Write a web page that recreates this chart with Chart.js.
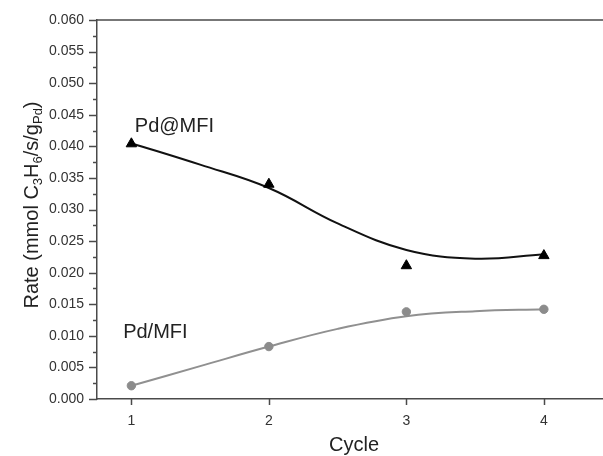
<!DOCTYPE html>
<html>
<head>
<meta charset="utf-8">
<script src="https://cdn.jsdelivr.net/npm/chart.js@4"></script>
<style>
  html, body { margin: 0; padding: 0; background: #fff; }
  #wrap { width: 603px; height: 456px; }
</style>
</head>
<body>
<div id="wrap"><canvas id="rateChart" width="603" height="456"></canvas></div>
<script>
// measured points
const cycles = [1, 2, 3, 4];
const pdAtMfi = [0.0404, 0.0340, 0.0211, 0.0227];
const pdMfi = [0.0021, 0.0083, 0.0138, 0.0142];

// fitted curves
const fitCycles = [1, 1.5, 2, 2.5, 3, 3.5, 4];
const pdAtMfiFit = [0.0405, 0.0371, 0.0334, 0.0278, 0.0236, 0.0222, 0.0229];
const pdMfiFit = [0.0021, 0.0052, 0.0083, 0.0111, 0.0131, 0.0139, 0.0142];

const xTickLabels = ['1', '2', '3', '4'];
const yTickStep = 0.005;

const FONT = '"Liberation Sans", Arial, sans-serif';
const GREY = '#8c8c8c';

const toXY = (xs, ys) => xs.map((x, i) => ({ x: x, y: ys[i] }));

// Frame, minor ticks, axis titles and the in-plot labels
const decorations = {
    id: 'decorations',
    afterDraw(chart) {
        const ctx = chart.ctx;
        const area = chart.chartArea;
        const xs = chart.scales.x;
        const ys = chart.scales.y;
        ctx.save();
        ctx.strokeStyle = '#4a4a4a';
        ctx.lineWidth = 1.5;

        // top line
        ctx.beginPath();
        ctx.moveTo(area.left, area.top);
        ctx.lineTo(area.right, area.top);
        ctx.stroke();

        // y ticks (major + minor)
        for (let i = 0; i <= 24; i++) {
            const py = Math.round(ys.getPixelForValue(i * yTickStep / 2)) + 0.5;
            const len = i % 2 === 0 ? 8 : 4;
            ctx.beginPath();
            ctx.moveTo(area.left - len, py);
            ctx.lineTo(area.left, py);
            ctx.stroke();
        }
        // x ticks
        cycles.forEach(c => {
            const px = Math.round(xs.getPixelForValue(c)) + 0.5;
            ctx.beginPath();
            ctx.moveTo(px, area.bottom);
            ctx.lineTo(px, area.bottom + 6);
            ctx.stroke();
        });

        // x title
        ctx.fillStyle = '#222';
        ctx.font = '20px ' + FONT;
        ctx.textAlign = 'center';
        ctx.textBaseline = 'middle';
        ctx.fillText('Cycle', 354, 445);

        // y title with subscripts
        const parts = [
            ['Rate (mmol C', false], ['3', true], ['H', false], ['6', true],
            ['/s/g', false], ['Pd', true], [')', false]
        ];
        const big = '20px ' + FONT, small = '13px ' + FONT;
        let total = 0;
        parts.forEach(p => { ctx.font = p[1] ? small : big; total += ctx.measureText(p[0]).width; });
        ctx.translate(32, 205);
        ctx.rotate(-Math.PI / 2);
        ctx.textAlign = 'left';
        ctx.textBaseline = 'alphabetic';
        let cx = -total / 2;
        parts.forEach(p => {
            ctx.font = p[1] ? small : big;
            ctx.fillText(p[0], cx, p[1] ? 10 : 6);
            cx += ctx.measureText(p[0]).width;
        });
        ctx.restore();

        // series labels
        ctx.save();
        ctx.fillStyle = '#222';
        ctx.font = '20px ' + FONT;
        ctx.textBaseline = 'middle';
        ctx.fillText('Pd@MFI', xs.getPixelForValue(1.025), ys.getPixelForValue(0.0432));
        ctx.fillText('Pd/MFI', xs.getPixelForValue(0.94), ys.getPixelForValue(0.0106));
        ctx.restore();
    }
};

new Chart(document.getElementById('rateChart'), {
    type: 'line',
    data: {
        datasets: [
            {
                label: 'Pd@MFI',
                data: toXY(cycles, pdAtMfi),
                showLine: false,
                pointStyle: 'triangle',
                pointRadius: 6,
                backgroundColor: '#000',
                borderColor: '#000',
                borderWidth: 1,
                order: 1
            },
            {
                label: 'Pd@MFI fit',
                data: toXY(fitCycles, pdAtMfiFit),
                borderColor: '#111',
                borderWidth: 2,
                pointRadius: 0,
                tension: 0.4,
                order: 3
            },
            {
                label: 'Pd/MFI',
                data: toXY(cycles, pdMfi),
                showLine: false,
                pointStyle: 'circle',
                pointRadius: 4.2,
                backgroundColor: GREY,
                borderColor: GREY,
                borderWidth: 1,
                order: 2
            },
            {
                label: 'Pd/MFI fit',
                data: toXY(fitCycles, pdMfiFit),
                borderColor: '#909090',
                borderWidth: 2,
                pointRadius: 0,
                tension: 0.4,
                order: 4
            }
        ]
    },
    options: {
        responsive: false,
        animation: false,
        layout: { autoPadding: false, padding: { top: 20, right: 0, left: 0, bottom: 0 } },
        plugins: {
            legend: { display: false },
            tooltip: { enabled: false }
        },
        scales: {
            x: {
                type: 'linear',
                min: 0.75,
                max: 4.43,
                afterFit: s => { s.height = 57; s.paddingLeft = 0; s.paddingRight = 0; },
                afterBuildTicks: s => { s.ticks = cycles.map(v => ({ value: v })); },
                grid: { display: false },
                border: { display: true, color: '#4a4a4a', width: 1.5 },
                ticks: {
                    padding: 6,
                    color: '#333',
                    font: { family: FONT, size: 14 },
                    callback: (v, i) => xTickLabels[i]
                }
            },
            y: {
                min: 0,
                max: 0.06,
                afterFit: s => { s.width = 97; },
                grid: { display: false },
                border: { display: true, color: '#4a4a4a', width: 1.5 },
                ticks: {
                    stepSize: yTickStep,
                    padding: 5,
                    color: '#333',
                    font: { family: FONT, size: 14 },
                    callback: v => v.toFixed(3)
                }
            }
        }
    },
    plugins: [decorations]
});
</script>
</body>
</html>
